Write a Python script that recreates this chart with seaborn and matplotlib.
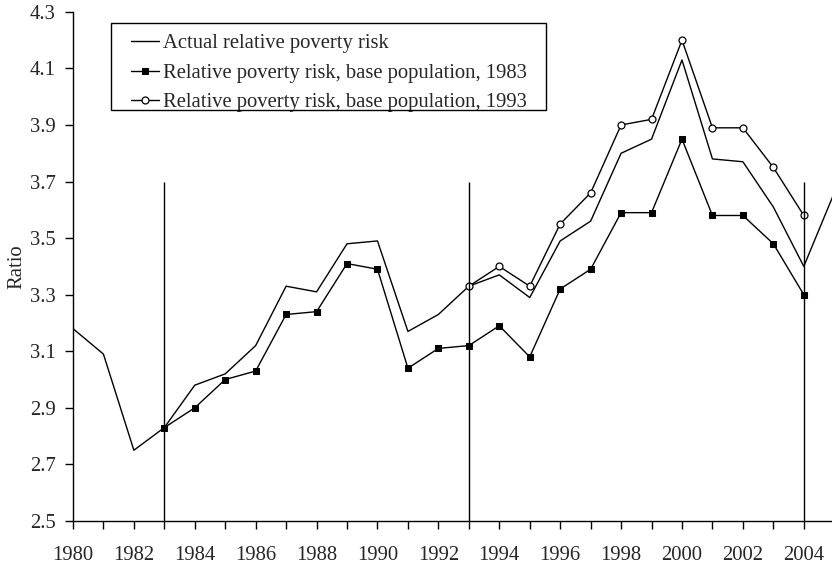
import pandas as pd
import matplotlib
matplotlib.use("Agg")
import matplotlib.pyplot as plt
import matplotlib.patches as mpatches
import seaborn as sns

# --- data ---
years_actual = list(range(1980, 2006))
actual = [3.18, 3.09, 2.75, 2.83, 2.98, 3.02, 3.12, 3.33, 3.31, 3.48,
          3.49, 3.17, 3.23, 3.33, 3.37, 3.29, 3.49, 3.56, 3.80, 3.85,
          4.13, 3.78, 3.77, 3.61, 3.40, 3.66]

years_1983 = list(range(1983, 2005))
base_1983 = [2.83, 2.90, 3.00, 3.03, 3.23, 3.24, 3.41, 3.39, 3.04, 3.11,
             3.12, 3.19, 3.08, 3.32, 3.39, 3.59, 3.59, 3.85, 3.58, 3.58,
             3.48, 3.30]

years_1993 = list(range(1993, 2005))
base_1993 = [3.33, 3.40, 3.33, 3.55, 3.66, 3.90, 3.92, 4.20, 3.89, 3.89,
             3.75, 3.58]

ref_years = [1983, 1993, 2004]
ref_top = 3.7

labels = ['Actual relative poverty risk',
          'Relative poverty risk, base population, 1983',
          'Relative poverty risk, base population, 1993']

FS = 14.9

sns.set_theme(style="white")
plt.rcParams['font.family'] = ['Liberation Serif', 'DejaVu Serif']
plt.rcParams['font.size'] = FS

fig = plt.figure(figsize=(8.32, 5.65), dpi=100)
ax = fig.add_axes([0.0877, 0.078, 0.915, 0.901])

df_a = pd.DataFrame({'Year': years_actual, 'Ratio': actual})
df_b = pd.DataFrame({'Year': years_1983, 'Ratio': base_1983})
df_c = pd.DataFrame({'Year': years_1993, 'Ratio': base_1993})

sns.lineplot(data=df_a, x='Year', y='Ratio', ax=ax, color='black', lw=1.0,
             label=labels[0])
sns.lineplot(data=df_b, x='Year', y='Ratio', ax=ax, color='black', lw=1.0,
             marker='s', markersize=4.5, markerfacecolor='black',
             markeredgecolor='black', label=labels[1])
sns.lineplot(data=df_c, x='Year', y='Ratio', ax=ax, color='black', lw=1.0,
             marker='o', markersize=5, markerfacecolor='white',
             markeredgecolor='black', markeredgewidth=0.9, label=labels[2])

ax.vlines(ref_years, 2.5, ref_top, color='black', lw=1.0)

ax.set_xlim(1980, 2005)
ax.set_ylim(2.5, 4.3)
ax.set_yticks([2.5, 2.7, 2.9, 3.1, 3.3, 3.5, 3.7, 3.9, 4.1, 4.3])
ax.set_xticks(list(range(1980, 2006)))
ax.set_xticklabels([str(y) if y % 2 == 0 and y <= 2004 else '' for y in range(1980, 2006)])
ax.tick_params(axis='both', direction='out', length=6, width=1, color='black',
               labelsize=FS, bottom=True, left=True)
ax.tick_params(axis='y', pad=6.5)
ax.tick_params(axis='x', pad=12)

for side in ['top', 'right']:
    ax.spines[side].set_visible(False)
for side in ['left', 'bottom']:
    ax.spines[side].set_color('black')
    ax.spines[side].set_linewidth(1.0)

ax.set_xlabel('')
ax.set_ylabel('Ratio', fontsize=FS, labelpad=2)

# legend without its own frame; the box is drawn separately so that the
# horizontal and vertical padding can differ as in the original
leg = ax.legend(loc='upper left', bbox_to_anchor=(0.0763, 0.957), frameon=False,
                handlelength=1.35, handletextpad=0.2, borderpad=0,
                labelspacing=0.49, fontsize=FS, borderaxespad=0)
box = mpatches.Rectangle((111 / 832, 1 - 110 / 565), 435 / 832, 86.7 / 565,
                         transform=fig.transFigure, fill=False,
                         edgecolor='black', lw=1.0)
fig.add_artist(box)

plt.savefig('out.png', dpi=100)
